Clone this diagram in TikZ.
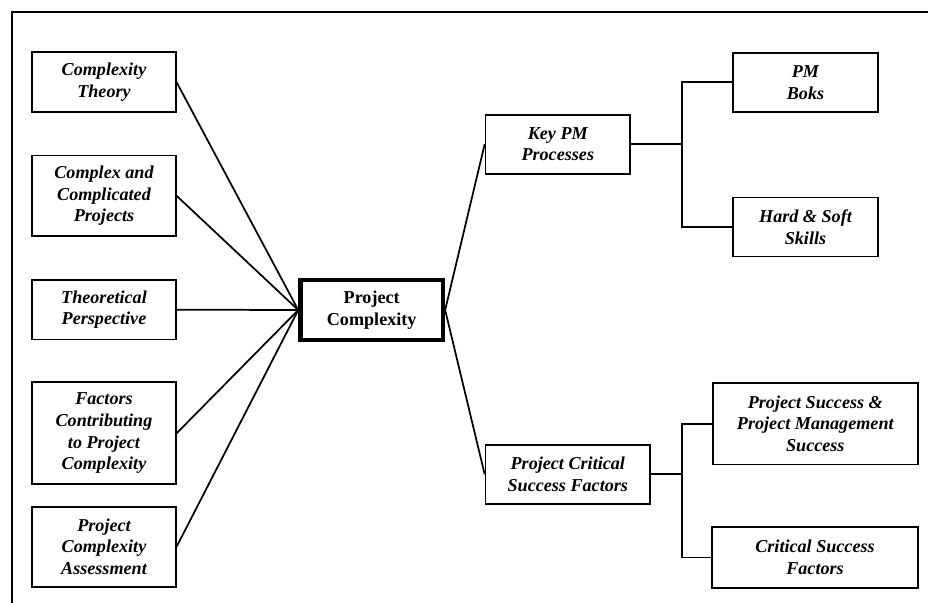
\documentclass[tikz,border=0pt]{standalone}
\usepackage{fontspec}
\setmainfont{Liberation Serif}
\begin{document}
\begin{tikzpicture}[x=0.75pt, y=-0.75pt,
  every node/.style={inner sep=0pt, align=center,
    font=\fontsize{13.6pt}{16.3pt}\selectfont\bfseries\itshape},
  topic/.style 2 args={draw, line width=1.3pt, minimum width=#1, minimum height=#2},
  hub/.style={draw, line width=3.2pt, minimum width=107pt, minimum height=44.6pt,
    font=\fontsize{13.6pt}{16.3pt}\selectfont\bfseries},
  link/.style={line width=1.3pt}]
\useasboundingbox (0,0) rectangle (928,603);

% frame
\draw[line width=1.3pt] (11.7,603) -- (11.7,11.7) -- (928,11.7);

% central topic
\node[hub] (pc) at (371.7,310) {Project\\Complexity};

% left column
\node[topic={107.6pt}{45pt}]   (ct)  at (104,82.2)  {Complexity\\Theory};
\node[topic={107.6pt}{60.4pt}] (cc)  at (104,195.8) {Complex and\\Complicated\\Projects};
\node[topic={107.6pt}{44.6pt}] (tp)  at (104,309.7) {Theoretical\\Perspective};
\node[topic={107.6pt}{76.5pt}] (fc)  at (104,433.3) {Factors\\Contributing\\to Project\\Complexity};
\node[topic={107.6pt}{60pt}]   (pca) at (104,546.7) {Project\\Complexity\\Assessment};

% right branches
\node[topic={108.4pt}{44.3pt}] (kpm)  at (557.8,144.2) {Key PM\\Processes};
\node[topic={123.4pt}{44.3pt}] (pcsf) at (567.8,474.3) {Project Critical\\Success Factors};

\node[topic={108.3pt}{44.3pt}] (pmb) at (805.5,82.3) {PM\\Boks};
\node[topic={108.3pt}{44.3pt}] (hs)  at (805.5,227)  {Hard \& Soft\\Skills};
\node[topic={153.8pt}{61.1pt}] (ps)  at (815.3,423.7) {Project Success \&\\Project Management\\Success};
\node[topic={154pt}{45.3pt}]   (csf) at (815,557.5)  {Critical Success\\Factors};

% bracket junctions
\coordinate (b1) at (681.7,144.2);
\coordinate (b2) at (681.7,474.3);

% connectors
\foreach \n in {ct,cc,tp,fc,pca}
  \draw[link] (\n.east) -- (pc.west);
\draw[link] (pc.east) -- (kpm.west);
\draw[link] (pc.east) -- (pcsf.west);

\draw[link] (kpm.east) -- (b1);
\draw[link] (pmb.west) -| (b1) |- (hs.west);
\draw[link] (pcsf.east) -- (b2);
\draw[link] (ps.west) -| (b2) |- (csf.west);
\end{tikzpicture}
\end{document}
